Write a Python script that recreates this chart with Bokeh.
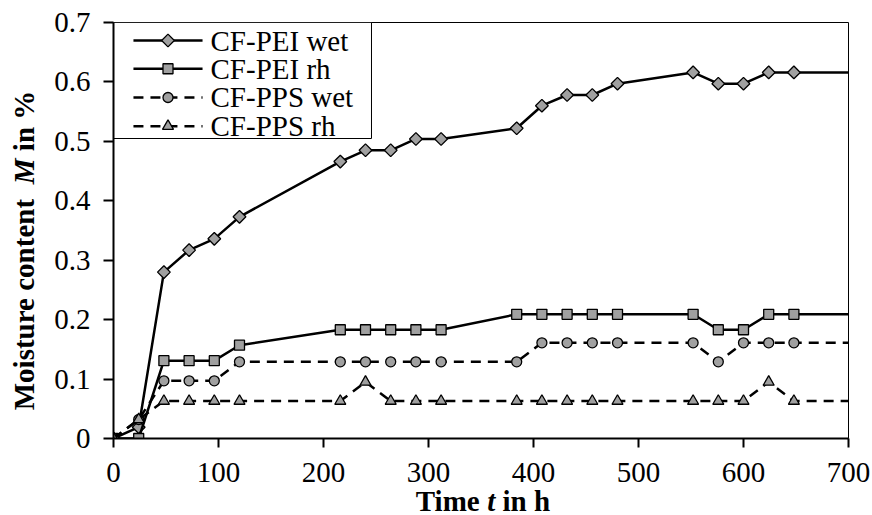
import numpy as np
from bokeh.plotting import figure
from bokeh.layouts import row, column
from bokeh.models import Range1d, FixedTicker, Label
from bokeh.embed import file_html
from bokeh.resources import INLINE

# ---------------- data ----------------
times = [0, 24, 48, 72, 96, 120, 216, 240, 264, 288, 312,
         384, 408, 432, 456, 480, 552, 576, 600, 624, 648]
pei_wet = [0.000, 0.019, 0.280, 0.317, 0.336, 0.373, 0.466, 0.485, 0.485, 0.504, 0.504,
           0.522, 0.560, 0.578, 0.578, 0.597, 0.616, 0.597, 0.597, 0.616, 0.616]
pei_rh = [0.000, 0.000, 0.131, 0.131, 0.131, 0.157, 0.183, 0.183, 0.183, 0.183, 0.183,
          0.209, 0.209, 0.209, 0.209, 0.209, 0.209, 0.183, 0.183, 0.209, 0.209]
pps_wet = [0.000, 0.032, 0.097, 0.097, 0.097, 0.129, 0.129, 0.129, 0.129, 0.129, 0.129,
           0.129, 0.161, 0.161, 0.161, 0.161, 0.161, 0.129, 0.161, 0.161, 0.161]
pps_rh = [0.000, 0.032, 0.063, 0.063, 0.063, 0.063, 0.063, 0.095, 0.063, 0.063, 0.063,
          0.063, 0.063, 0.063, 0.063, 0.063, 0.063, 0.063, 0.063, 0.095, 0.063]
series_names = ["CF-PEI wet", "CF-PEI rh", "CF-PPS wet", "CF-PPS rh"]

x_ticks = [0, 100, 200, 300, 400, 500, 600, 700]
x_tick_labels = ["0", "100", "200", "300", "400", "500", "600", "700"]
y_ticks = [0, 0.1, 0.2, 0.3, 0.4, 0.5, 0.6, 0.7]
y_tick_labels = ["0", "0.1", "0.2", "0.3", "0.4", "0.5", "0.6", "0.7"]
x_max = 700
y_max = 0.7

# ---------------- styles ----------------
FONT = "Liberation Serif"
GRAY = "#A0A0A0"
DASH = "10 7"
styles = [
    dict(marker="square", angle=np.pi / 4, size=9, dash="solid"),   # diamond
    dict(marker="square", angle=0.0, size=10, dash="solid"),
    dict(marker="circle", angle=0.0, size=10, dash=DASH),
    dict(marker="triangle", angle=0.0, size=11, dash=DASH),
]
series = [pei_wet, pei_rh, pps_wet, pps_rh]

TOTAL_W, TOTAL_H = 872, 515
YT_W = 45                  # strip for the y-axis title
XT_H = 35                  # strip for the x-axis title (overlaps bottom border)
MAIN_W = TOTAL_W - YT_W
B_LEFT, B_RIGHT, B_TOP, B_BOTTOM = 68, 24, 22, 77

p = figure(width=MAIN_W, height=TOTAL_H, output_backend="svg", toolbar_location=None,
           title=None,
           x_range=Range1d(0, x_max), y_range=Range1d(0, y_max),
           min_border_left=B_LEFT, min_border_right=B_RIGHT,
           min_border_top=B_TOP, min_border_bottom=B_BOTTOM)
p.background_fill_color = "white"
p.border_fill_color = "white"
p.xgrid.grid_line_color = None
p.ygrid.grid_line_color = None
p.outline_line_color = "black"
p.outline_line_width = 1

p.xaxis.ticker = FixedTicker(ticks=x_ticks)
p.yaxis.ticker = FixedTicker(ticks=y_ticks)
p.xaxis.major_label_overrides = dict(zip(x_ticks, x_tick_labels))
p.yaxis.major_label_overrides = dict(zip(y_ticks, y_tick_labels))
p.axis.axis_line_color = "black"
p.axis.axis_line_width = 2
p.axis.major_tick_line_color = "black"
p.axis.major_tick_line_width = 2
p.axis.major_tick_in = 0
p.axis.minor_tick_line_color = None
p.axis.major_label_text_font = FONT
p.axis.major_label_text_font_size = "29px"
p.axis.major_label_text_color = "black"
p.yaxis.major_tick_out = 10
p.yaxis.major_label_standoff = 13
p.xaxis.major_tick_out = 9
p.xaxis.major_label_standoff = 15

# ---------------- series ----------------
for vals, st in zip(series, styles):
    p.line(times + [x_max], vals + [vals[-1]], line_color="black", line_width=2.5,
           line_dash=st["dash"])
    p.scatter(times, vals, marker=st["marker"], angle=st["angle"], size=st["size"],
              fill_color=GRAY, line_color="black", line_width=1.3)

# ---------------- legend (drawn inside the frame) ----------------
leg_left, leg_right, leg_top, leg_bottom = 0, 245.7, y_max, 0.5048
p.quad(left=[leg_left], right=[leg_right], top=[leg_top], bottom=[leg_bottom],
       fill_color="white", line_color="black", line_width=1)
row_y = [0.6697, 0.6222, 0.5738, 0.5254]
for name, st, ry in zip(series_names, styles, row_y):
    p.line([19.0, 84.8], [ry, ry], line_color="black", line_width=2.5, line_dash=st["dash"])
    p.scatter([51.9], [ry], marker=st["marker"], angle=st["angle"], size=st["size"],
              fill_color=GRAY, line_color="black", line_width=1.3)
    p.add_layout(Label(x=92.4, y=ry, text=name, text_font=FONT, text_font_size="29px",
                       text_color="black", text_baseline="middle", text_align="left"))


# ---------------- axis titles (mixed styles) in their own strips ----------------
def strip(w, h, x_range, y_range, borders):
    bl, br, bt, bb = borders
    f = figure(width=w, height=h, output_backend="svg", toolbar_location=None,
               title=None, x_range=x_range, y_range=y_range,
               x_axis_type=None, y_axis_type=None,
               min_border_left=bl, min_border_right=br,
               min_border_top=bt, min_border_bottom=bb)
    f.outline_line_color = None
    f.background_fill_alpha = 0
    f.border_fill_alpha = 0
    f.xgrid.grid_line_color = None
    f.ygrid.grid_line_color = None
    return f


def add_label(f, x, y, text, style, angle=0.0, size="29px"):
    f.add_layout(Label(x=x, y=y, text=text, angle=angle, text_font=FONT,
                       text_font_style=style, text_font_size=size, text_color="black",
                       text_baseline="middle", text_align="center"))


# y title shares the main y range, so its pieces sit in data units
ytitle = strip(YT_W, TOTAL_H, Range1d(0, YT_W), p.y_range, (0, 0, B_TOP, B_BOTTOM))
add_label(ytitle, 23, 0.2253, "Moisture content", "bold", np.pi / 2)
add_label(ytitle, 23, 0.4496, "M", "bold italic", np.pi / 2)
add_label(ytitle, 23, 0.5344, "in %", "bold", np.pi / 2)

# x title shares the main x range; strip overlaps the bottom border of the chart
xtitle = strip(TOTAL_W, XT_H, p.x_range, Range1d(0, XT_H), (YT_W + B_LEFT, B_RIGHT, 0, 0))
xtitle.margin = (-XT_H, 0, 0, 0)
add_label(xtitle, 318.3, 15.0, "Time", "bold")
add_label(xtitle, 359.7, 15.0, "t", "bold italic")
add_label(xtitle, 393.1, 15.0, "in h", "bold")

layout = column(row(ytitle, p), xtitle)
open("out.html", "w").write(file_html(layout, INLINE))
